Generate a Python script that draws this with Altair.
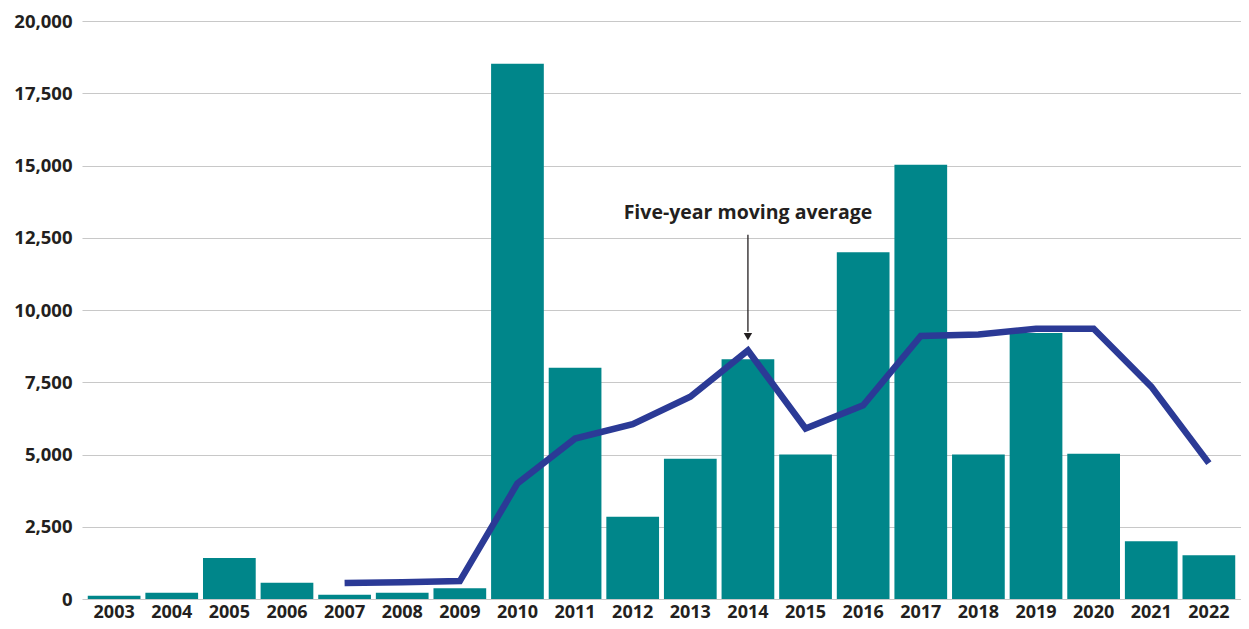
import altair as alt
import pandas as pd

years = [str(y) for y in range(2003, 2023)]
values = [110, 215, 1415, 560, 150, 215, 375, 18525, 8000, 2850, 4850, 8300,
          5000, 12000, 15025, 5000, 9200, 5030, 2000, 1510]
ma_years = years[4:]
ma_values = [550, 580, 620, 4000, 5550, 6050, 7000, 8600, 5900, 6700, 9100,
             9150, 9350, 9350, 7350, 4700]
y_ticks = list(range(0, 20001, 2500))

annot_year = "2014"
annot_text = "Five-year moving average"
annot_text_y = 13345
annot_rule_top = 12600
annot_rule_bottom = 9250
annot_head_y = 9080

bars_df = pd.DataFrame({"year": years, "value": values})
ma_df = pd.DataFrame({"year": ma_years, "ma": ma_values})
annot_df = pd.DataFrame({"year": [annot_year], "label": [annot_text],
                         "ty": [annot_text_y], "r1": [annot_rule_top],
                         "r2": [annot_rule_bottom], "hy": [annot_head_y]})

FONT = "Open Sans"
TEXT_COLOR = "#231f20"

x_enc = alt.X("year:N", sort=years,
              scale=alt.Scale(paddingInner=0.085, paddingOuter=0.1),
              axis=alt.Axis(title=None, labelAngle=0, ticks=False, domain=False,
                            grid=False, labelPadding=4, labelFontSize=18,
                            labelFont=FONT, labelFontWeight="bold",
                            labelColor=TEXT_COLOR))
y_scale = alt.Scale(domain=[0, 20000], nice=False)

bars = alt.Chart(bars_df).mark_bar(color="#00868a").encode(
    x=x_enc,
    y=alt.Y("value:Q", scale=y_scale,
            axis=alt.Axis(title=None, values=y_ticks, format=",.0f", ticks=False,
                          domain=False, grid=True, gridColor="#c8c8c8",
                          gridWidth=1.2, labelPadding=10, labelFontSize=18.5,
                          labelFont=FONT, labelFontWeight="bold",
                          labelColor=TEXT_COLOR)),
)

line = alt.Chart(ma_df).mark_line(color="#2b3a96", strokeWidth=6.5,
                                  strokeJoin="miter").encode(
    x=alt.X("year:N", sort=years),
    y=alt.Y("ma:Q", scale=y_scale),
)

text = alt.Chart(annot_df).mark_text(font=FONT, fontWeight="bold", fontSize=19.5,
                                     color=TEXT_COLOR, baseline="middle").encode(
    x=alt.X("year:N", sort=years),
    y=alt.Y("ty:Q", scale=y_scale),
    text="label:N",
)

rule = alt.Chart(annot_df).mark_rule(color=TEXT_COLOR, strokeWidth=1.3).encode(
    x=alt.X("year:N", sort=years),
    y=alt.Y("r1:Q", scale=y_scale),
    y2="r2:Q",
)

head = alt.Chart(annot_df).mark_point(shape="triangle-down", filled=True,
                                      color=TEXT_COLOR, size=70, opacity=1).encode(
    x=alt.X("year:N", sort=years),
    y=alt.Y("hy:Q", scale=y_scale),
)

chart = alt.layer(bars, line, rule, head, text).properties(
    width=1159, height=578,
    autosize=alt.AutoSizeParams(type="none"),
    padding={"left": 74, "top": 13, "right": 0, "bottom": 22},
).configure(background="white").configure_view(stroke=None, strokeWidth=0)

chart.save("out.html", embed_options={"renderer": "svg", "actions": False})
